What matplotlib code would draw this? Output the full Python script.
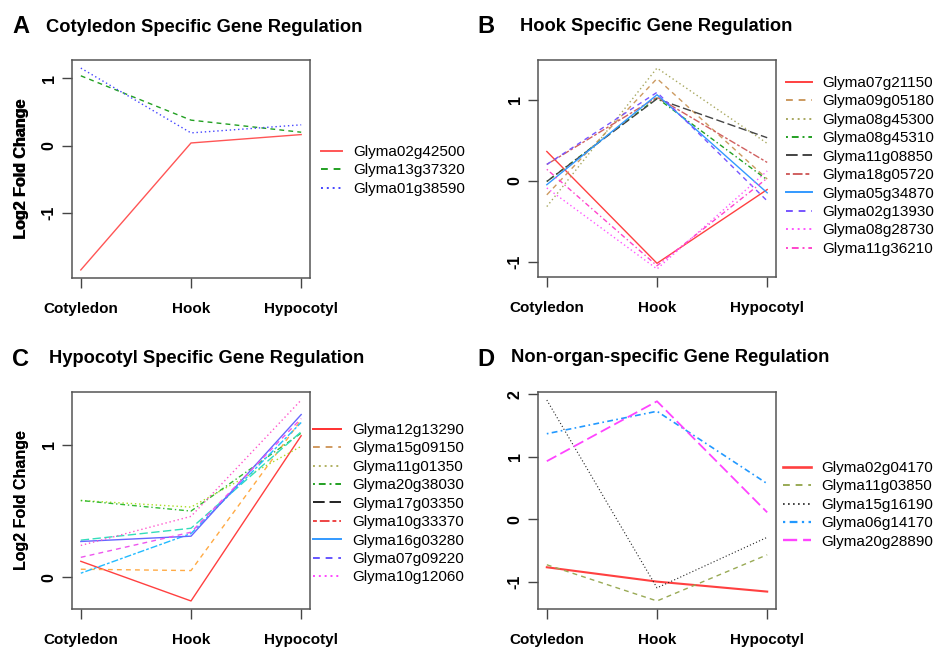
import numpy as np
import matplotlib
matplotlib.use("Agg")
import matplotlib.pyplot as plt
from matplotlib.ticker import MultipleLocator

plt.rcParams['font.family'] = ['Liberation Sans', 'DejaVu Sans']
plt.rcParams['axes.unicode_minus'] = False

W, H = 939, 649

# %% data
tissues = ["Cotyledon", "Hook", "Hypocotyl"]

genes_a = ["Glyma02g42500", "Glyma13g37320", "Glyma01g38590"]
vals_a = [
    [-1.85, 0.04, 0.165],
    [1.04, 0.38, 0.20],
    [1.155, 0.19, 0.31],
]

genes_b = ["Glyma07g21150", "Glyma09g05180", "Glyma08g45300", "Glyma08g45310",
           "Glyma11g08850", "Glyma18g05720", "Glyma05g34870", "Glyma02g13930",
           "Glyma08g28730", "Glyma11g36210"]
vals_b = [
    [0.36, -1.02, -0.11],
    [-0.175, 1.26, 0.02],
    [-0.32, 1.39, 0.46],
    [-0.01, 1.02, 0.01],
    [-0.01, 1.01, 0.53],
    [0.20, 1.03, 0.225],
    [-0.05, 1.06, -0.15],
    [0.20, 1.09, -0.25],
    [-0.09, -1.09, 0.12],
    [0.14, -1.05, 0.03],
]

genes_c = ["Glyma12g13290", "Glyma15g09150", "Glyma11g01350", "Glyma20g38030",
           "Glyma17g03350", "Glyma10g33370", "Glyma16g03280", "Glyma07g09220",
           "Glyma10g12060"]
vals_c = [
    [0.12, -0.18, 1.07],
    [0.06, 0.05, 1.19],
    [0.58, 0.53, 0.99],
    [0.58, 0.50, 1.09],
    [0.28, 0.37, 1.10],
    [0.03, 0.33, 1.17],
    [0.27, 0.31, 1.23],
    [0.15, 0.34, 1.20],
    [0.24, 0.46, 1.34],
]

genes_d = ["Glyma02g04170", "Glyma11g03850", "Glyma15g16190", "Glyma06g14170",
           "Glyma20g28890"]
vals_d = [
    [-0.77, -1.00, -1.16],
    [-0.73, -1.31, -0.57],
    [1.91, -1.10, -0.29],
    [1.37, 1.73, 0.57],
    [0.93, 1.89, 0.11],
]

# %% styles (R-like lty cycle)
lty = {
    "solid": "-",
    "dashed": (0, (3.5, 3)),
    "dotted": (0, (1, 2)),
    "dotdash": (0, (1, 2, 3.5, 2)),
    "longdash": (0, (6, 2.5)),
    "twodash": (0, (2, 1.5, 5, 1.5)),
}
lty_cycle = ["solid", "dashed", "dotted", "dotdash", "longdash", "twodash"]

cols_a = ["#ff5555", "#22a022", "#4444ff"]
cols_b = ["#ff4040", "#cc9a60", "#a8a860", "#22a022", "#444444", "#d06060",
          "#3399ff", "#7755ff", "#ff55ff", "#ff44cc"]
# panel C: plotted colours differ from legend colours in the original figure
cols_c_lines = ["#ff4040", "#ffaa44", "#aadd22", "#33bb33", "#33ddbb", "#22bbff",
                "#6666ff", "#ee55ee", "#ff55cc"]
cols_c_legend = ["#ff3030", "#d09a60", "#b0b060", "#22a022", "#222222", "#ee4444",
                 "#3399ff", "#6655ff", "#ff44ff"]
cols_d = ["#ff4040", "#99aa55", "#222222", "#2299ff", "#ff44ff"]
lws_d = [1.5, 1.0, 0.8, 1.2, 1.3]


def px_axes(fig, x0, y0, x1, y1):
    return fig.add_axes([x0 / W, 1 - y1 / H, (x1 - x0) / W, (y1 - y0) / H])


def panel(fig, box, letter, title, lpos, tpos, genes, vals, line_cols,
          leg_cols, legpos, lws=None, hlen=1.7):
    ax = px_axes(fig, *box)
    x = np.arange(1, len(tissues) + 1)
    handles = []
    for i, (g, v) in enumerate(zip(genes, vals)):
        ls = lty[lty_cycle[i % 6]]
        lw = lws[i] if lws else 1.0
        ax.plot(x, v, color=line_cols[i], ls=ls, lw=lw)
        h, = ax.plot([], [], color=leg_cols[i], ls=ls, lw=lw + 0.4, label=g)
        handles.append(h)
    ax.margins(x=0.04, y=0.04)
    ax.set_xticks(x)
    ax.set_xticklabels(tissues, fontsize=11, fontweight='bold')
    ax.yaxis.set_major_locator(MultipleLocator(1))
    for lab in ax.get_yticklabels():
        lab.set_rotation(90)
        lab.set_va('center')
        lab.set_fontsize(11.5)
        lab.set_fontweight('bold')
    ax.tick_params(axis='x', length=7, width=1, color='#444444', pad=10)
    ax.tick_params(axis='y', length=7, width=1, color='#444444', pad=4)
    for s in ax.spines.values():
        s.set_color('#555555')
        s.set_linewidth(1.1)
    ax.set_ylabel("Log2 Fold Change", fontsize=11.5, fontweight='bold')
    ax.yaxis.set_label_coords((29 - box[0]) / (box[2] - box[0]), 0.5)

    fig.text(lpos[0] / W, 1 - lpos[1] / H, letter, fontsize=17,
             fontweight='bold', va='baseline')
    fig.text(tpos[0] / W, 1 - tpos[1] / H, title, fontsize=13.2,
             fontweight='bold', va='baseline')

    fig.legend(handles=handles, loc='upper left',
               bbox_to_anchor=(legpos[0] / W, 1 - legpos[1] / H),
               frameon=False, fontsize=11, handlelength=hlen,
               handletextpad=0.7, labelspacing=0.29, borderpad=0,
               borderaxespad=0)
    return ax


fig = plt.figure(figsize=(W / 100, H / 100), dpi=100)

panel(fig, (72, 60, 310, 278), "A", "Cotyledon Specific Gene Regulation",
      (12, 33), (46, 32), genes_a, vals_a, cols_a, cols_a, (321, 145),
      hlen=1.4)
panel(fig, (538, 60, 776, 277), "B", "Hook Specific Gene Regulation",
      (477, 33), (520, 31), genes_b, vals_b, cols_b, cols_b, (786, 76))
panel(fig, (72, 392, 310, 609), "C", "Hypocotyl Specific Gene Regulation",
      (12, 366), (49, 363), genes_c, vals_c, cols_c_lines, cols_c_legend,
      (313, 423), hlen=1.85)
panel(fig, (538, 392, 776, 609), "D", "Non-organ-specific Gene Regulation",
      (477, 366), (511, 362), genes_d, vals_d, cols_d, cols_d, (783, 461),
      lws=lws_d, hlen=1.8)

fig.savefig("out.png", dpi=100, facecolor="white")
